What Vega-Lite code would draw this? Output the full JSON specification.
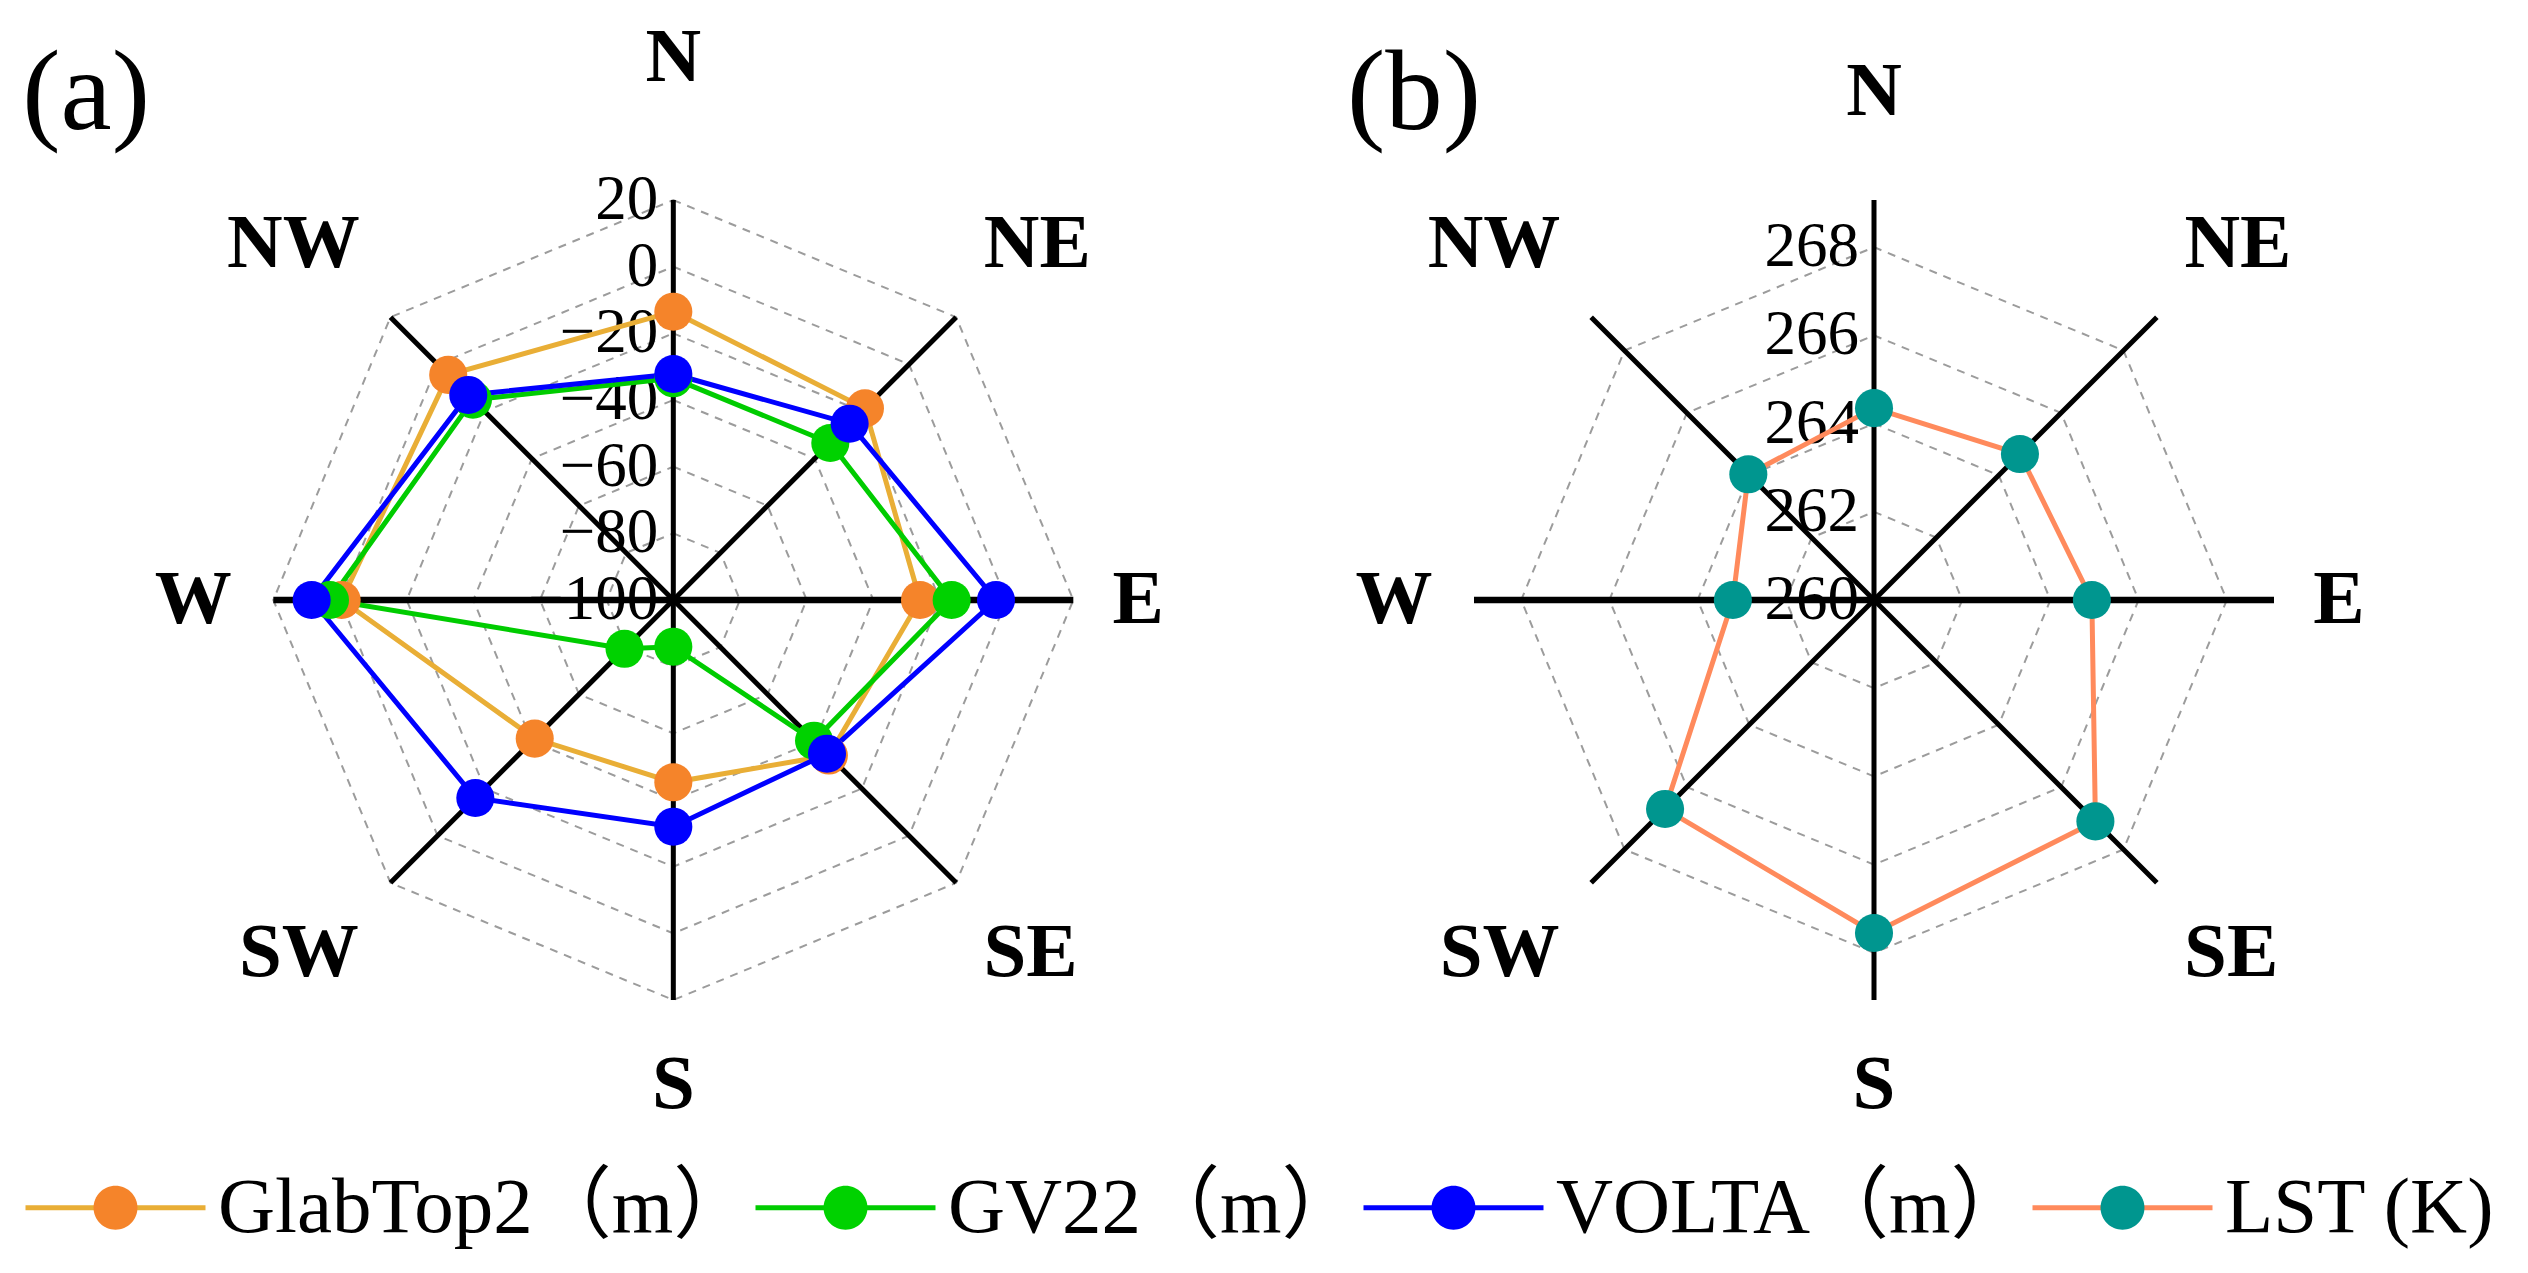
{
  "$schema": "https://vega.github.io/schema/vega-lite/v6.json",
  "width": 2528,
  "height": 1273,
  "autosize": "none",
  "padding": 0,
  "background": "white",
  "config": {"view": {"stroke": null}},
  "datasets": {
    "radar": [
      {"panel": "a", "series": "GlabTop2（m）", "dir": "N", "value": -13.5},
      {"panel": "a", "series": "GlabTop2（m）", "dir": "NE", "value": -18.7},
      {"panel": "a", "series": "GlabTop2（m）", "dir": "E", "value": -26},
      {"panel": "a", "series": "GlabTop2（m）", "dir": "SE", "value": -34},
      {"panel": "a", "series": "GlabTop2（m）", "dir": "S", "value": -45.3},
      {"panel": "a", "series": "GlabTop2（m）", "dir": "SW", "value": -41.2},
      {"panel": "a", "series": "GlabTop2（m）", "dir": "W", "value": -0.5},
      {"panel": "a", "series": "GlabTop2（m）", "dir": "NW", "value": -4.5},
      {"panel": "a", "series": "GV22（m）", "dir": "N", "value": -33.5},
      {"panel": "a", "series": "GV22（m）", "dir": "NE", "value": -33.4},
      {"panel": "a", "series": "GV22（m）", "dir": "E", "value": -16.5},
      {"panel": "a", "series": "GV22（m）", "dir": "SE", "value": -40.3},
      {"panel": "a", "series": "GV22（m）", "dir": "S", "value": -86},
      {"panel": "a", "series": "GV22（m）", "dir": "SW", "value": -79.3},
      {"panel": "a", "series": "GV22（m）", "dir": "W", "value": 3},
      {"panel": "a", "series": "GV22（m）", "dir": "NW", "value": -15},
      {"panel": "a", "series": "VOLTA（m）", "dir": "N", "value": -32.2},
      {"panel": "a", "series": "VOLTA（m）", "dir": "NE", "value": -25.2},
      {"panel": "a", "series": "VOLTA（m）", "dir": "E", "value": -3.2},
      {"panel": "a", "series": "VOLTA（m）", "dir": "SE", "value": -34.8},
      {"panel": "a", "series": "VOLTA（m）", "dir": "S", "value": -32},
      {"panel": "a", "series": "VOLTA（m）", "dir": "SW", "value": -16},
      {"panel": "a", "series": "VOLTA（m）", "dir": "W", "value": 8.5},
      {"panel": "a", "series": "VOLTA（m）", "dir": "NW", "value": -13},
      {"panel": "b", "series": "LST (K)", "dir": "N", "value": 264.35},
      {"panel": "b", "series": "LST (K)", "dir": "NE", "value": 264.68},
      {"panel": "b", "series": "LST (K)", "dir": "E", "value": 264.94},
      {"panel": "b", "series": "LST (K)", "dir": "SE", "value": 267.1},
      {"panel": "b", "series": "LST (K)", "dir": "S", "value": 267.55},
      {"panel": "b", "series": "LST (K)", "dir": "SW", "value": 266.7},
      {"panel": "b", "series": "LST (K)", "dir": "W", "value": 263.2},
      {"panel": "b", "series": "LST (K)", "dir": "NW", "value": 264.03}
    ],
    "ticks": [
      {"panel": "a", "tick": -100},
      {"panel": "a", "tick": -80},
      {"panel": "a", "tick": -60},
      {"panel": "a", "tick": -40},
      {"panel": "a", "tick": -20},
      {"panel": "a", "tick": 0},
      {"panel": "a", "tick": 20},
      {"panel": "b", "tick": 260},
      {"panel": "b", "tick": 262},
      {"panel": "b", "tick": 264},
      {"panel": "b", "tick": 266},
      {"panel": "b", "tick": 268}
    ],
    "dirs": [
      {"panel": "a", "dir": "N"}, {"panel": "a", "dir": "NE"}, {"panel": "a", "dir": "E"}, {"panel": "a", "dir": "SE"},
      {"panel": "a", "dir": "S"}, {"panel": "a", "dir": "SW"}, {"panel": "a", "dir": "W"}, {"panel": "a", "dir": "NW"},
      {"panel": "b", "dir": "N"}, {"panel": "b", "dir": "NE"}, {"panel": "b", "dir": "E"}, {"panel": "b", "dir": "SE"},
      {"panel": "b", "dir": "S"}, {"panel": "b", "dir": "SW"}, {"panel": "b", "dir": "W"}, {"panel": "b", "dir": "NW"}
    ],
    "tags": [
      {"panel": "a", "tag": "(a)"},
      {"panel": "b", "tag": "(b)"}
    ]
  },
  "layer": [
    {
      "data": {"name": "ticks"},
      "transform": [
        {"filter": "datum.tick != -100 && datum.tick != 260"},
        {"calculate": "['N','NE','E','SE','S','SW','W','NW']", "as": "dir"},
        {"flatten": ["dir"]},
        {"calculate": "indexof(['N','NE','E','SE','S','SW','W','NW'], datum.dir) * PI / 4", "as": "theta"},
        {"calculate": "datum.panel == 'a' ? (datum.tick + 100) / 120 : (datum.tick - 260) / 9.07", "as": "r"},
        {"calculate": "(datum.panel == 'a' ? 1.6833 : 4.685) + datum.r * sin(datum.theta)", "as": "px"},
        {"calculate": "datum.r * cos(datum.theta)", "as": "py"},
        {"calculate": "datum.panel + datum.tick", "as": "ring"}
      ],
      "mark": {"type": "line", "interpolate": "linear-closed", "stroke": "#9c9c9c", "strokeWidth": 2, "strokeDash": [8, 7]},
      "encoding": {
        "x": {"field": "px", "type": "quantitative", "scale": {"domain": [0, 6.32], "nice": false, "zero": false}, "axis": null},
        "y": {"field": "py", "type": "quantitative", "scale": {"domain": [-1.6825, 1.5], "nice": false, "zero": false}, "axis": null},
        "detail": {"field": "ring", "type": "nominal"},
        "order": {"field": "theta", "type": "quantitative"}
      }
    },
    {
      "data": {"name": "ticks"},
      "transform": [
        {"calculate": "datum.panel == 'a' ? (datum.tick + 100) / 120 : (datum.tick - 260) / 9.07", "as": "r"},
        {"calculate": "datum.panel == 'a' ? 1.6833 : 4.685", "as": "px"}
      ],
      "mark": {"type": "text", "align": "right", "baseline": "middle", "dx": -15, "font": "Liberation Serif", "fontSize": 63, "color": "black"},
      "encoding": {
        "x": {"field": "px", "type": "quantitative", "scale": {"domain": [0, 6.32], "nice": false, "zero": false}, "axis": null},
        "y": {"field": "r", "type": "quantitative", "scale": {"domain": [-1.6825, 1.5], "nice": false, "zero": false}, "axis": null},
        "text": {"field": "tick", "type": "quantitative", "format": "d"}
      }
    },
    {
      "data": {"name": "dirs"},
      "transform": [
        {"calculate": "indexof(['N','NE','E','SE','S','SW','W','NW'], datum.dir) * PI / 4", "as": "theta"},
        {"calculate": "datum.panel == 'a' ? 1.6833 : 4.685", "as": "x0"},
        {"calculate": "0", "as": "y0"},
        {"calculate": "datum.x0 + sin(datum.theta)", "as": "x1"},
        {"calculate": "cos(datum.theta)", "as": "y1"}
      ],
      "mark": {"type": "rule", "color": "black", "strokeCap": "butt"},
      "encoding": {
        "x": {"field": "x0", "type": "quantitative", "scale": {"domain": [0, 6.32], "nice": false, "zero": false}, "axis": null},
        "y": {"field": "y0", "type": "quantitative", "scale": {"domain": [-1.6825, 1.5], "nice": false, "zero": false}, "axis": null},
        "x2": {"field": "x1"},
        "y2": {"field": "y1"},
        "strokeWidth": {"condition": {"test": "datum.dir == 'E' || datum.dir == 'W'", "value": 6.5}, "value": 5}
      }
    },
    {
      "data": {"name": "radar"},
      "transform": [
        {"calculate": "indexof(['N','NE','E','SE','S','SW','W','NW'], datum.dir) * PI / 4", "as": "theta"},
        {"calculate": "datum.panel == 'a' ? (datum.value + 100) / 120 : (datum.value - 260) / 9.07", "as": "r"},
        {"calculate": "(datum.panel == 'a' ? 1.6833 : 4.685) + datum.r * sin(datum.theta)", "as": "px"},
        {"calculate": "datum.r * cos(datum.theta)", "as": "py"}
      ],
      "mark": {"type": "line", "interpolate": "linear-closed", "strokeWidth": 5},
      "encoding": {
        "x": {"field": "px", "type": "quantitative", "scale": {"domain": [0, 6.32], "nice": false, "zero": false}, "axis": null},
        "y": {"field": "py", "type": "quantitative", "scale": {"domain": [-1.6825, 1.5], "nice": false, "zero": false}, "axis": null},
        "order": {"field": "theta", "type": "quantitative"},
        "stroke": {
          "field": "series", "type": "nominal",
          "scale": {"domain": ["GlabTop2（m）", "GV22（m）", "VOLTA（m）", "LST (K)"], "range": ["#E9AE36", "#00CC00", "#0000FF", "#FF8A5C"]},
          "legend": {
            "orient": "none", "legendX": 23, "legendY": 1115, "direction": "horizontal", "title": null,
            "symbolType": "M -1 0 H -0.235 M 0.235 0 H 1", "symbolSize": 32400, "symbolStrokeWidth": 5,
            "labelFont": "Liberation Serif, Noto Sans CJK SC", "labelFontSize": 79, "labelColor": "black",
            "labelOffset": 10, "columnPadding": -12, "padding": 0, "labelLimit": 2000, "offset": 0
          }
        }
      }
    },
    {
      "data": {"name": "radar"},
      "transform": [
        {"calculate": "indexof(['N','NE','E','SE','S','SW','W','NW'], datum.dir) * PI / 4", "as": "theta"},
        {"calculate": "datum.panel == 'a' ? (datum.value + 100) / 120 : (datum.value - 260) / 9.07", "as": "r"},
        {"calculate": "(datum.panel == 'a' ? 1.6833 : 4.685) + datum.r * sin(datum.theta)", "as": "px"},
        {"calculate": "datum.r * cos(datum.theta)", "as": "py"}
      ],
      "mark": {"type": "circle", "size": 1450, "opacity": 1, "strokeWidth": 0},
      "encoding": {
        "x": {"field": "px", "type": "quantitative", "scale": {"domain": [0, 6.32], "nice": false, "zero": false}, "axis": null},
        "y": {"field": "py", "type": "quantitative", "scale": {"domain": [-1.6825, 1.5], "nice": false, "zero": false}, "axis": null},
        "fill": {
          "field": "series", "type": "nominal",
          "scale": {"domain": ["GlabTop2（m）", "GV22（m）", "VOLTA（m）", "LST (K)", "·"], "range": ["#F5842A", "#00D200", "#0000FF", "#00968F", "#ffffff"]},
          "legend": {
            "orient": "none", "legendX": 23, "legendY": 1115, "direction": "horizontal", "title": null,
            "values": ["GlabTop2（m）", "GV22（m）", "VOLTA（m）", "LST (K)"],
            "symbolType": "M -0.244 0 A 0.244 0.244 0 1 1 0.244 0 A 0.244 0.244 0 1 1 -0.244 0 Z", "symbolSize": 32400,
            "symbolStrokeWidth": 5, "symbolStrokeColor": "transparent", "symbolOpacity": 1,
            "labelFont": "Liberation Serif, Noto Sans CJK SC", "labelFontSize": 79, "labelColor": "rgba(0,0,0,0)",
            "labelOffset": 10, "columnPadding": -12, "padding": 0, "labelLimit": 2000, "offset": 0
          }
        }
      }
    },
    {
      "data": {"name": "dirs"},
      "transform": [
        {"calculate": "indexof(['N','NE','E','SE','S','SW','W','NW'], datum.dir)", "as": "k"},
        {"calculate": "(datum.panel == 'a' ? 1.6833 : 4.685) + [0, 0.91, 1.162, 0.893, 0, -0.936, -1.2, -0.95][datum.k]", "as": "px"},
        {"calculate": "datum.k == 0 ? (datum.panel == 'a' ? 1.355 : 1.27) : [0, 0.89, 0, -0.883, -1.212, -0.883, 0, 0.89][datum.k]", "as": "py"}
      ],
      "mark": {"type": "text", "align": "center", "baseline": "middle", "font": "Liberation Serif", "fontWeight": "bold", "fontSize": 77, "color": "black"},
      "encoding": {
        "x": {"field": "px", "type": "quantitative", "scale": {"domain": [0, 6.32], "nice": false, "zero": false}, "axis": null},
        "y": {"field": "py", "type": "quantitative", "scale": {"domain": [-1.6825, 1.5], "nice": false, "zero": false}, "axis": null},
        "text": {"field": "dir", "type": "nominal"}
      }
    },
    {
      "data": {"name": "tags"},
      "transform": [
        {"calculate": "datum.panel == 'a' ? 1.6833 - 1.468 : 4.685 - 1.15", "as": "px"},
        {"calculate": "1.265", "as": "py"}
      ],
      "mark": {"type": "text", "align": "center", "baseline": "middle", "font": "Liberation Serif", "fontSize": 115, "color": "black"},
      "encoding": {
        "x": {"field": "px", "type": "quantitative", "scale": {"domain": [0, 6.32], "nice": false, "zero": false}, "axis": null},
        "y": {"field": "py", "type": "quantitative", "scale": {"domain": [-1.6825, 1.5], "nice": false, "zero": false}, "axis": null},
        "text": {"field": "tag", "type": "nominal"}
      }
    }
  ]
}
